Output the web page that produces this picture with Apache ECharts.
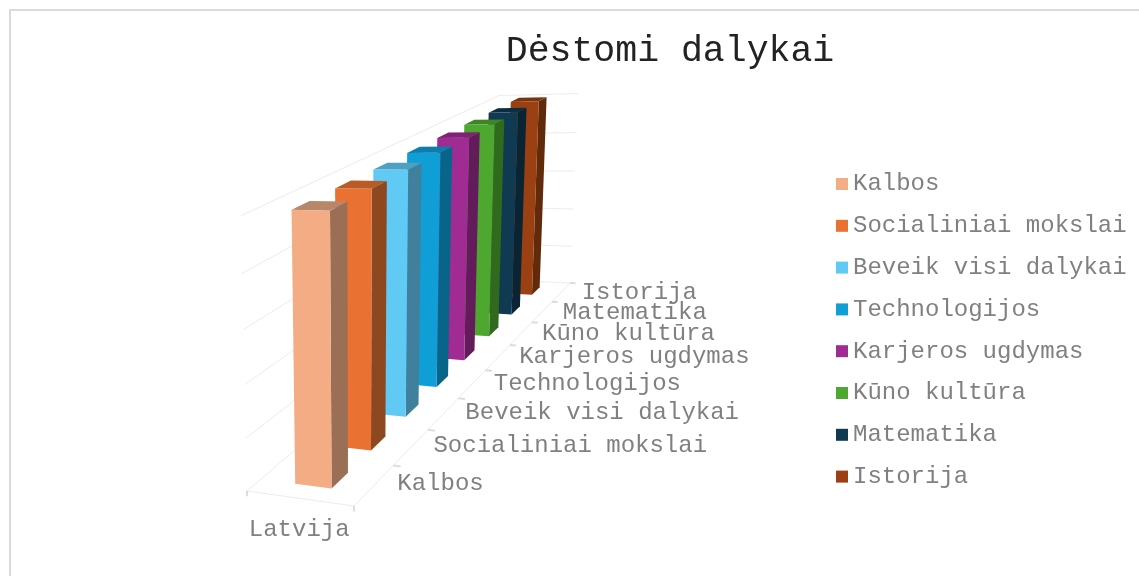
<!DOCTYPE html>
<html>
<head>
<meta charset="utf-8">
<title>Dėstomi dalykai</title>
<script src="https://cdn.jsdelivr.net/npm/echarts@6/dist/echarts.min.js"></script>
<style>
html, body { margin: 0; padding: 0; background: #fff; }
#main { width: 1139px; height: 576px; }
</style>
</head>
<body>
<div id="main"></div>
<script>
const categories = ['Kalbos', 'Socialiniai mokslai', 'Beveik visi dalykai', 'Technologijos', 'Karjeros ugdymas', 'Kūno kultūra', 'Matematika', 'Istorija'];
const values = [1, 1, 1, 1, 1, 1, 1, 1];
const countries = ['Latvija'];
const valueTicks = [0, 0.2, 0.4, 0.6, 0.8, 1];
const frontColors = ['#F3AC84', '#E97132', '#60CAF5', '#0F9ED5', '#A02B93', '#4EA72E', '#0F3A52', '#9A4012'];
const topColors = ['#B8876A', '#B95B27', '#4F9FC2', '#0D7DAB', '#7F2275', '#3F8525', '#0C2E41', '#7A330F'];
const sideColors = ['#9B6F55', '#8E481F', '#40809D', '#096489', '#641B5C', '#316A1D', '#0A2433', '#612A0A'];

const labelFont = 'Liberation Mono';
const labelColor = '#808080';
const gridColor = '#ececec';
const axisColor = '#dcdcdc';

// 3D box corners as seen on the page, everything gets projected from these
const A = [247, 491], B = [354, 506], C = [240.5, 216], D = [570, 283], G = [494, 279.5];
const wy = 0.945;
const barLeft = 0.335, barRight = 0.68, barDepth = 0.4;

const det = (B[0] - D[0]) * (G[1] - D[1]) - (G[0] - D[0]) * (B[1] - D[1]);
const sx = A[0] - B[0] + D[0] - G[0], sy = A[1] - B[1] + D[1] - G[1];
const wx = 1 + (sx * (G[1] - D[1]) - (G[0] - D[0]) * sy) / det;
const wz = 1 + ((B[0] - D[0]) * sy - sx * (B[1] - D[1])) / det;

function project(x, y, z) {
    const w = 1 + x * (wx - 1) + y * (wy - 1) + z * (wz - 1);
    const u = A[0] + x * (wx * B[0] - A[0]) + y * (wy * C[0] - A[0]) + z * (wz * G[0] - A[0]);
    const v = A[1] + x * (wx * B[1] - A[1]) + y * (wy * C[1] - A[1]) + z * (wz * G[1] - A[1]);
    return [u / w, v / w];
}

function face(points, color) {
    return { type: 'polygon', shape: { points: points }, style: { fill: color }, silent: true };
}

function line(from, to, color, width) {
    return {
        type: 'line',
        shape: { x1: from[0], y1: from[1], x2: to[0], y2: to[1] },
        style: { stroke: color, lineWidth: width || 1, fill: null },
        silent: true
    };
}

function label(text, pos, align) {
    return {
        type: 'text',
        x: pos[0], y: pos[1],
        style: { text: text, fontFamily: labelFont, fontSize: 24, fill: labelColor, align: align, verticalAlign: 'middle' },
        silent: true
    };
}

// bars are added back to front so nearer ones cover farther ones
function barIndex(i) {
    return categories.length - 1 - i;
}

// depth goes on the hidden x axis, value on the hidden y axis
function renderBar(params, api) {
    const c = barIndex(params.seriesIndex - 1);
    const cs = params.coordSys;
    const top = api.coord([api.value(0), api.value(1)]);
    const band = api.size([1, 0])[0];
    const zMid = (top[0] - cs.x) / cs.width;
    const half = (band / cs.width) * barDepth / 2;
    const z0 = zMid - half, z1 = zMid + half;
    const h = (cs.y + cs.height - top[1]) / cs.height;
    return {
        type: 'group',
        children: [
            face([project(barRight, 0, z0), project(barRight, 0, z1), project(barRight, h, z1), project(barRight, h, z0)], sideColors[c]),
            face([project(barLeft, h, z0), project(barRight, h, z0), project(barRight, h, z1), project(barLeft, h, z1)], topColors[c]),
            face([project(barLeft, 0, z0), project(barRight, 0, z0), project(barRight, h, z0), project(barLeft, h, z0)], frontColors[c])
        ]
    };
}

// walls, floor, ticks and axis labels
function renderFrame(params, api) {
    const children = [];
    valueTicks.forEach(function (t) {
        const y = t / valueTicks[valueTicks.length - 1];
        children.push(line(project(0, y, 0), project(0, y, 1), gridColor));
        children.push(line(project(0, y, 1), project(1, y, 1), gridColor));
    });
    children.push(line(project(0, 0, 0), project(1, 0, 0), gridColor));
    children.push(line(project(1, 0, 0), project(1, 0, 1), gridColor));
    children.push(line(project(0, 0, 0), project(0, -0.02, 0), axisColor, 2));
    children.push(line(project(1, 0, 0), project(1, -0.02, 0), axisColor, 2));
    categories.forEach(function (name, i) {
        const z = (i + 1) / categories.length;
        children.push(line(project(1, 0, z), project(1.07, 0, z), axisColor, 2));
        const p = project(1.2, 0, (i + 0.5) / categories.length);
        const t = i / (categories.length - 1);
        children.push(label(name, [p[0] + 1 + 3.5 * t, p[1] - 4 + 4 * t], 'left'));
    });
    children.push(label(countries[0], project(0.495, -0.12, 0), 'center'));
    return { type: 'group', children: children };
}

const barSeries = categories.map(function (name, i) {
    return {
        name: name,
        type: 'custom',
        renderItem: renderBar,
        itemStyle: { color: frontColors[i] },
        clip: false,
        data: [[i, values[i]]]
    };
}).reverse();

const chart = echarts.init(document.getElementById('main'), null, { renderer: 'canvas' });
chart.setOption({
    animation: false,
    backgroundColor: '#ffffff',
    title: {
        text: 'Dėstomi dalykai',
        left: 665,
        top: 28,
        textAlign: 'center',
        textStyle: { fontFamily: labelFont, fontSize: 36.5, fontWeight: 'normal', color: '#222222' }
    },
    legend: {
        data: categories,
        orient: 'vertical',
        left: 836,
        top: 172,
        padding: 0,
        icon: 'rect',
        itemWidth: 12,
        itemHeight: 12,
        itemGap: 17.8,
        textStyle: { fontFamily: labelFont, fontSize: 24, color: labelColor }
    },
    tooltip: { show: false },
    grid: { left: 0, top: 0, width: 1000, height: 500, containLabel: false },
    xAxis: { type: 'category', data: categories, show: false },
    yAxis: { type: 'value', min: valueTicks[0], max: valueTicks[valueTicks.length - 1], show: false },
    graphic: [{
        type: 'polyline',
        shape: { points: [[10, 600], [10, 10], [1200, 10]] },
        style: { stroke: '#dadada', lineWidth: 2, fill: null },
        silent: true
    }],
    series: [{
        type: 'custom',
        name: 'frame',
        renderItem: renderFrame,
        clip: false,
        silent: true,
        data: [[0, 0]]
    }].concat(barSeries)
});
</script>
</body>
</html>
